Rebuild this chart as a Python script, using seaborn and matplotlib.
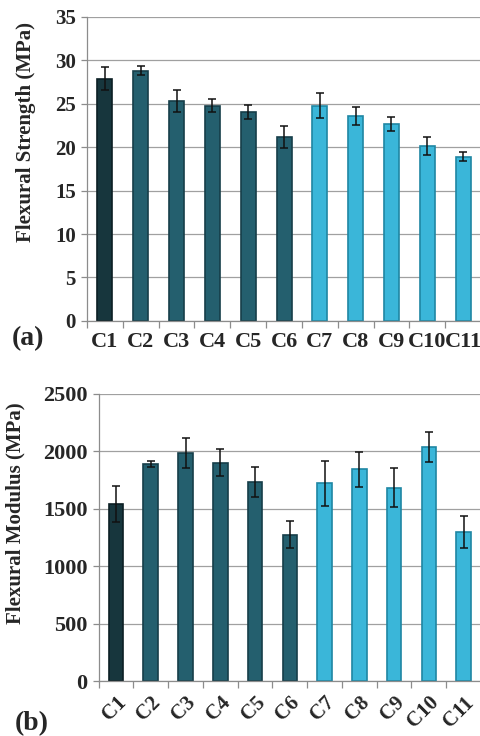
import numpy as np
import pandas as pd
import seaborn as sns
import matplotlib.pyplot as plt

samples = ["C1", "C2", "C3", "C4", "C5", "C6", "C7", "C8", "C9", "C10", "C11"]
strength = [27.9, 28.8, 25.3, 24.8, 24.1, 21.2, 24.8, 23.6, 22.7, 20.1, 18.9]
strength_err = [1.35, 0.5, 1.3, 0.8, 0.8, 1.25, 1.4, 1.0, 0.8, 1.05, 0.5]
modulus = [1545, 1890, 1990, 1900, 1735, 1275, 1722, 1846, 1686, 2040, 1298]
modulus_err = [155, 25, 130, 117, 130, 118, 196, 151, 167, 132, 140]

bar_colors = ["#17363d"] + ["#245f6e"] * 5 + ["#3ab6d9"] * 5
edge_colors = ["#0c1f24"] + ["#163e49"] * 5 + ["#1f86a3"] * 5

sns.set_theme(style="white")
plt.rcParams["font.family"] = ["Liberation Serif", "DejaVu Serif"]
plt.rcParams["font.weight"] = "bold"

fig = plt.figure(figsize=(4.81, 7.36), dpi=100)
ax1 = fig.add_axes([0.181, 0.564, 0.819, 0.413])
ax2 = fig.add_axes([0.205, 0.0743, 0.795, 0.3904])

df = pd.DataFrame({"sample": samples, "strength": strength, "modulus": modulus})


def draw(ax, col, err, ymax, step, ylabel, rot, ysize, xsize, lab_xy):
    sns.barplot(data=df, x="sample", y=col, hue="sample", palette=bar_colors,
                legend=False, width=0.42, ax=ax, saturation=1)
    for p, ec in zip(ax.patches, edge_colors):
        p.set_edgecolor(ec)
        p.set_linewidth(1.2)
    ax.errorbar(range(len(samples)), df[col], yerr=err, fmt="none",
                ecolor="#111111", elinewidth=1.1, capsize=3, capthick=1.1, zorder=5)
    ax.set_ylim(0, ymax)
    ax.set_xlim(-0.5, len(samples) - 0.5)
    ax.set_yticks(np.arange(0, ymax + 1, step))
    ax.yaxis.grid(True, color="#a0a0a0", linewidth=0.9)
    ax.set_axisbelow(True)
    for s in ["top", "right"]:
        ax.spines[s].set_visible(False)
    for s in ["left", "bottom"]:
        ax.spines[s].set_color("#8c8c8c")
        ax.spines[s].set_linewidth(0.9)
    ax.set_xlabel("")
    ax.set_ylabel(ylabel, fontsize=15, fontweight="bold")
    ax.yaxis.set_label_coords(*lab_xy)
    ax.set_xticks(np.arange(-0.5, len(samples), 1), minor=True)
    ax.tick_params(axis="x", which="minor", length=5, color="#8c8c8c", width=0.9, bottom=True)
    ax.tick_params(axis="x", which="major", length=0, pad=8, labelsize=xsize)
    ax.tick_params(axis="y", which="major", length=4, color="#8c8c8c", width=0.9,
                   left=True, labelsize=ysize, pad=4)
    for lab in ax.get_xticklabels():
        lab.set_fontweight("bold")
        if rot:
            lab.set_rotation(45)
            lab.set_ha("right")
            lab.set_rotation_mode("anchor")
    for lab in ax.get_yticklabels():
        lab.set_fontweight("bold")


draw(ax1, "strength", strength_err, 35, 5, "Flexural Strength (MPa)", False, 15, 16,
     (-0.13, 0.62))
draw(ax2, "modulus", modulus_err, 2500, 500, "Flexural Modulus (MPa)", True, 16, 15,
     (-0.19, 0.585))

fig.text(0.025, 0.54, "(a)", fontsize=20, fontweight="bold", va="center")
fig.text(0.03, 0.017, "(b)", fontsize=20, fontweight="bold", va="center")

fig.savefig("out.png", dpi=100)
